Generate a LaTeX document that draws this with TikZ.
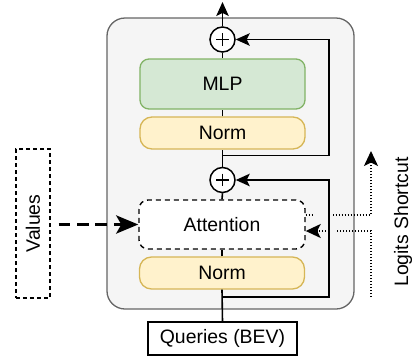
\documentclass[tikz,border=0pt]{standalone}
\usepackage{fontspec}
\setmainfont{Liberation Sans}
\usetikzlibrary{arrows.meta,calc}
\definecolor{blkfill}{HTML}{F5F5F5}
\definecolor{blkdraw}{HTML}{666666}
\definecolor{mlpfill}{HTML}{D5E8D4}
\definecolor{mlpdraw}{HTML}{82B366}
\definecolor{normfill}{HTML}{FFF2CC}
\definecolor{normdraw}{HTML}{D6B656}
\begin{document}
\begin{tikzpicture}[x=1bp,y=-1bp,
  font=\fontsize{19.5}{22}\selectfont,
  container/.style={draw=blkdraw,fill=blkfill,line width=1.3bp,rounded corners=18bp,minimum width=247bp,minimum height=291bp,inner sep=0pt},
  mlpbox/.style={draw=mlpdraw,fill=mlpfill,line width=1.3bp,rounded corners=9bp,minimum width=165bp,minimum height=50bp,inner sep=0pt},
  normbox/.style={draw=normdraw,fill=normfill,line width=1.3bp,rounded corners=12bp,minimum width=165bp,minimum height=32bp,inner sep=0pt},
  attbox/.style={draw=black,fill=white,line width=1.4bp,dash pattern=on 5bp off 4bp,rounded corners=9bp,minimum width=166bp,minimum height=49bp,inner sep=0pt},
  plusnode/.style={draw=black,fill=white,circle,line width=1.5bp,minimum size=25bp,inner sep=0pt},
  inbox/.style={draw=black,fill=white,line width=1.3bp,minimum width=149bp,minimum height=33bp,inner sep=0pt},
  valbox/.style={draw=black,line width=1.3bp,dash pattern=on 4bp off 3bp,minimum width=34bp,minimum height=149bp,inner sep=0pt},
  conn/.style={draw=black,line width=1.6bp},
  arr/.style={conn,-{Stealth[length=14bp,width=12.5bp,inset=3bp]}},
  dotarr/.style={draw=black,line width=1.5bp,dash pattern=on 1.5bp off 1.5bp,-{Stealth[length=15bp,width=14bp,inset=3.5bp]}},
  valarr/.style={draw=black,line width=3.5bp,dash pattern=on 11.7bp off 6.7bp,-{Stealth[length=22bp,width=18bp,inset=5bp]}}
]
\useasboundingbox (0,0) rectangle (412,360);

\node[container] (blk) at (230.5,163.5) {};

\node[mlpbox] (mlp) at (222.5,84) {MLP};
\node[normbox] (norm1) at (222.5,133) {Norm};
\node[attbox] (att) at (222,224.5) {Attention};
\node[normbox] (norm2) at (222,273) {Norm};
\node[plusnode] (plus1) at (222.5,39.5) {};
\node[plusnode] (plus2) at (222.5,180) {};
\node[inbox] (queries) at (222.5,338.5) {Queries (BEV)};
\node[valbox] (values) at (33,223.5) {\rotatebox{90}{Values}};
\node (logits) at (403,222) {\rotatebox{90}{Logits Shortcut}};

% plus signs
\foreach \p in {plus1,plus2}{
  \draw[line width=1.3bp] ($(\p)+(-6.3,0)$) -- ($(\p)+(6.3,0)$);
  \draw[line width=1.3bp] ($(\p)+(0,-6.3)$) -- ($(\p)+(0,6.3)$);
}

\coordinate (outtop) at (222.5,2);
\coordinate (rx) at (329,0);
\coordinate (r1s) at (222.5,297);
\coordinate (r2s) at (222.5,155.5);
\coordinate (lsTop) at (371,151);
\coordinate (lsBot) at (371,297);

% main chain
\draw[conn] (queries.north) -- (norm2.south);
\draw[conn] (norm2.north) -- (att.south);
\draw[conn] (att.north) -- (plus2.south);
\draw[conn] (plus2.north) -- (norm1.south);
\draw[conn] (norm1.north) -- (mlp.south);
\draw[conn] (mlp.north) -- (plus1.south);
\draw[arr] (plus1.north) -- (outtop);

% logits shortcut (dotted)
\draw[dotarr] ([yshift=9.5bp]att.east) -| (lsTop);
\draw[dotarr] (lsBot) |- ([yshift=-6.5bp]att.east);
% line-jump gaps
\draw[blkfill,line width=3bp] (314,215) -- (333,215);
\draw[blkfill,line width=3bp] (325.5,231) -- (336.5,231);

% residuals
\draw[arr] (r1s) -- (r1s -| rx) |- (plus2.east);
\draw[arr] (r2s) -- (r2s -| rx) |- (plus1.east);

% values
\draw[valarr,shorten <=8bp] (values.east |- att.west) -- (att.west);
\end{tikzpicture}
\end{document}
